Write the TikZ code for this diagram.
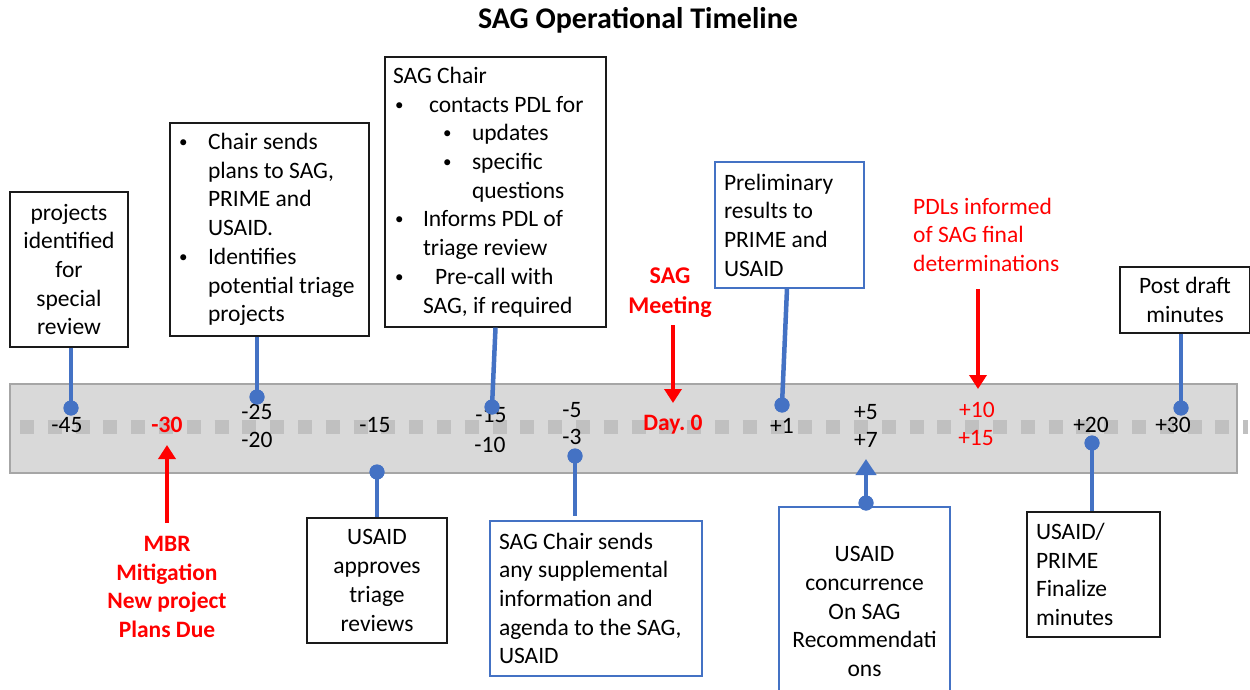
\documentclass[tikz,border=0pt]{standalone}
\usepackage{fontspec}
\setmainfont{Carlito}
\usetikzlibrary{arrows.meta}
\definecolor{sblue}{HTML}{4472C4}
\definecolor{sred}{HTML}{FF0000}
\definecolor{bandfill}{HTML}{D9D9D9}
\definecolor{bandline}{HTML}{A6A6A6}
\definecolor{dashc}{HTML}{C0C0C0}
\definecolor{boxline}{HTML}{1A1A1A}
\newcommand\tlbul[2]{\hspace*{#1pt}\makebox[#2pt][l]{\raisebox{2pt}{\fontsize{17}{17}\selectfont\textbullet}}}
\newcommand\tlind[1]{\hspace*{#1pt}}
\frenchspacing
\begin{document}
\frenchspacing
\begin{tikzpicture}[x=1pt,y=-1pt,
  every node/.style={font=\fontsize{23.5}{28.7}\selectfont\frenchspacing},
  box/.style={draw=boxline, line width=1.3pt, fill=white, inner xsep=0pt, inner ysep=0pt},
  bbox/.style={box, draw=sblue},
  stem/.style={sblue, line width=4.5pt},
  dotn/.style={circle, fill=sblue, inner sep=0pt, minimum size=15pt},
  redarr/.style={sred, line width=4.5pt, -{Triangle[width=17pt,length=14pt]}},
  bluearr/.style={sblue, line width=4.5pt, -{Triangle[width=20pt,length=16pt]}},
  lab/.style={inner sep=0pt},
  redlab/.style={inner sep=0pt, text=sred},
  redbold/.style={inner sep=0pt, text=sred, font=\fontsize{23.5}{28.5}\selectfont\bfseries\frenchspacing}
]
\useasboundingbox (0,0) rectangle (1250,690);
\clip (0,0) rectangle (1250,690);

% title
\node[font=\fontsize{30}{36}\selectfont\bfseries] (title) at (638,20) {SAG Operational Timeline};

% band
\filldraw[fill=bandfill, draw=bandline, line width=1.2pt] (10,384) rectangle (1237,473);
\draw[dashc, line width=13.5pt, dash pattern=on 13.9pt off 13.9pt] (20,427) -- (1248,427);

% timeline labels
\node[lab] (l45) at (67,425) {-45};
\node[redbold] (l30) at (167,425) {-30};
\node[lab] (l25) at (257,412) {-25};
\node[lab] (l20) at (257,440) {-20};
\node[lab] (l15a) at (375,425) {-15};
\node[lab] (l15b) at (491,415) {-15};
\node[lab] (l10) at (490,445) {-10};
\node[lab] (l5) at (572,410) {-5};
\node[lab] (l3) at (572,437) {-3};
\node[redbold] (l0) at (673,425) {Day. 0};
\node[lab] (lp1) at (782,426) {+1};
\node[lab] (lp5) at (866,412) {+5};
\node[lab] (lp7) at (866,440) {+7};
\node[redlab] (lp10) at (977,410) {+10};
\node[redlab] (lp15) at (976,438) {+15};
\node[lab] (lp20) at (1091,425) {+20};
\node[lab] (lp30) at (1173,425) {+30};

% upper boxes
\node[box, text width=118pt, minimum height=155pt, align=flush center] (b45) at (69,269.5)
  {projects\\identified\\for\\special\\review};
\node[box, text width=199pt, minimum height=213pt, align=flush left] (b25) at (269.5,229.5)
  {\tlbul{9}{29}Chair sends\\\tlind{38}plans to SAG,\\\tlind{38}PRIME and\\\tlind{38}USAID.\\\tlbul{9}{29}Identifies\\\tlind{38}potential triage\\\tlind{38}projects};
\node[box, text width=221pt, minimum height=270pt, align=flush left] (b15) at (495.5,192)
  {\tlind{8}SAG Chair\\\tlbul{10}{34}contacts PDL for\\\tlbul{58}{29}updates\\\tlbul{58}{29}specific\\\tlind{87}questions\\\tlbul{10}{28}Informs PDL of\\\tlind{38}triage review\\\tlbul{10}{40}Pre-call with\\\tlind{38}SAG, if required};
\node[bbox, inner xsep=9pt, text width=131pt, minimum height=126pt, align=flush left] (bp1) at (789.5,225)
  {Preliminary\\results to\\PRIME and\\USAID};
\node[box, text width=130pt, minimum height=66pt, align=flush center] (bp30) at (1185,300)
  {Post draft\\minutes};

% red annotations
\node[redbold, font=\fontsize{24}{30}\selectfont\bfseries, align=flush center] (sagm) at (670,293) {SAG\\Meeting};
\node[redlab, anchor=west, align=flush left, font=\fontsize{23.5}{28.5}\selectfont] (pdl) at (913,234.5)
  {PDLs informed\\of SAG final\\determinations};
\node[redbold, align=flush center] (mbr) at (167,587) {MBR\\Mitigation\\New project\\Plans Due};

% lower boxes
\node[box, text width=140pt, minimum height=125pt, align=flush center] (bm15) at (377,580.5)
  {USAID\\approves\\triage\\reviews};
\node[bbox, inner xsep=9pt, text width=194pt, minimum height=155pt, align=flush left] (bm3) at (596,598.5)
  {SAG Chair sends\\any supplemental\\information and\\agenda to the SAG,\\USAID};
\node[bbox, text width=171pt, minimum height=209pt, align=flush center] (bp7) at (864.5,611.5)
  {USAID\\concurrence\\On SAG\\Recommendati\\ons};
\node[box, inner xsep=9pt, text width=115pt, minimum height=125pt, align=flush left] (bp20) at (1093.5,574.5)
  {USAID/\\PRIME\\Finalize\\minutes};

% dots
\node[dotn] (d45) at (71,408) {};
\node[dotn] (d25) at (257,397) {};
\node[dotn] (d15a) at (492,407) {};
\node[dotn] (dp1) at (782,405) {};
\node[dotn] (dp30) at (1181,408) {};
\node[dotn] (d15b) at (377,472) {};
\node[dotn] (d3) at (575,456) {};
\node[dotn] (dp7) at (866,503) {};
\node[dotn] (dp20) at (1092,443) {};

% stems
\draw[stem] (d45 |- b45.south) -- (d45.center);
\draw[stem] (d25 |- b25.south) -- (d25.center);
\draw[stem] (b15.south) -- (d15a.center);
\draw[stem] ([xshift=-2.5pt]bp1.south) -- (dp1.center);
\draw[stem] (dp30 |- bp30.south) -- (dp30.center);
\draw[stem] (d15b.center) -- (d15b |- bm15.north);
\draw[stem] (d3.center) -- ([yshift=4pt]d3 |- bm3.north);
\draw[stem] (dp20.center) -- (dp20 |- bp20.north);
\foreach \d in {d45,d25,d15a,dp1,dp30,d15b,d3,dp7,dp20} \fill[sblue] (\d) circle (7.5pt);

% arrows
\coordinate (t7) at (866,459);
\draw[bluearr] (dp7.center) -- (t7);
\coordinate (s0) at (673,325);
\coordinate (t0) at (673,403);
\draw[redarr] (s0) -- (t0);
\coordinate (s10) at (978,289);
\coordinate (t10) at (978,389);
\draw[redarr] (s10) -- (t10);
\coordinate (t30) at (167,445);
\draw[redarr] (mbr.north |- 0,523) -- (t30);
\end{tikzpicture}
\end{document}
